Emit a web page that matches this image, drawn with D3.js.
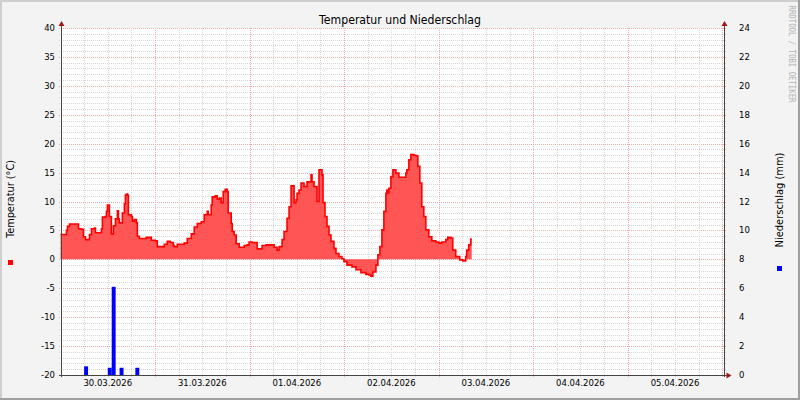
<!DOCTYPE html>
<html><head><meta charset="utf-8">
<script src="https://cdn.jsdelivr.net/npm/d3@7"></script>
<style>html,body{margin:0;padding:0;background:#f3f3f3}svg{display:block}</style>
</head><body><svg id="c" width="800" height="400"></svg>
<script>
// ---------- data ----------
const chartTitle = "Temperatur und Niederschlag";
const leftAxisTitle = "Temperatur (°C)";
const rightAxisTitle = "Niederschlag (mm)";
const watermark = "RRDTOOL / TOBI OETIKER";
const startTime = "2026-03-30T00:00";
const endTime = "2026-04-06T00:27";
const dateTicks = ["30.03.2026","31.03.2026","01.04.2026","02.04.2026","03.04.2026","04.04.2026","05.04.2026"];
const tempTicks = [-20,-15,-10,-5,0,5,10,15,20,25,30,35,40];
const rainTicks = [0,2,4,6,8,10,12,14,16,18,20,22,24];
// temperature: hours since start, °C
const tempHours = [0,1.27,1.52,1.77,2.28,4.31,4.56,5.32,5.83,6.34,6.84,7.35,7.86,8.62,8.87,9.88,10.39,10.64,11.40,11.66,11.91,12.16,12.42,12.92,13.18,13.43,13.94,14.44,14.70,14.95,15.46,15.71,16.22,16.47,16.73,16.98,17.23,17.99,18.25,18.75,19.26,19.51,20.02,21.29,21.79,22.55,23.06,24.07,24.58,25.59,26.35,27.11,27.88,28.64,28.89,29.65,30.66,31.42,32.18,33.20,33.96,34.72,35.73,36.49,37.25,37.50,38.26,38.52,39.28,39.79,40.29,40.80,41.31,41.81,42.32,42.57,43.33,43.59,44.09,44.60,45.36,46.12,46.63,47.39,47.89,48.65,49.67,49.92,50.94,51.19,52.20,53.47,54.23,54.99,55.50,56.26,56.76,57.52,58.03,58.54,58.79,59.30,59.80,60.06,60.56,61.07,61.83,62.59,63.61,63.86,64.37,65.13,65.63,66.39,66.65,67.15,67.66,68.17,68.67,69.43,69.94,70.70,71.46,71.96,72.73,73.99,75.01,76.28,77.54,78.30,78.81,79.31,80.08,80.58,81.09,81.60,82.10,82.61,82.86,83.12,83.37,83.88,84.39,85.15,85.91,86.67,87.68,87.93,88.44,88.95,89.71,90.21,90.72,91.23,91.73,92.24,92.75,93.51,94.27,95.28,96.04,96.80,97.82,98.32,99.08,99.59,100.35,101.36,102.12,102.88,103.13,103.64,104.15,104.40];
const tempValues = [4.3,4.3,5.0,5.7,6.1,6.1,5.3,5.2,3.9,3.4,3.4,4.3,5.3,5.4,4.6,4.6,5.3,7.3,7.4,8.3,9.4,9.4,7.4,4.4,4.4,5.8,7.0,8.4,7.0,6.3,6.3,8.0,9.6,11.1,11.3,11.1,7.7,7.4,6.6,6.9,6.3,4.0,3.6,3.6,3.8,3.8,3.3,3.2,2.2,2.2,2.6,3.1,2.9,2.4,2.2,2.6,2.6,2.8,3.6,4.4,5.6,6.2,6.5,7.7,8.3,7.7,9.4,10.8,11.0,10.4,10.6,9.8,11.7,12.1,11.7,8.0,6.2,4.8,4.2,2.7,2.1,2.1,2.4,2.5,3.0,2.9,2.9,1.8,1.8,2.4,2.5,2.5,2.1,1.6,2.2,3.4,4.8,7.1,9.1,12.7,12.7,9.8,10.3,11.4,12.0,13.2,12.6,13.4,14.6,13.4,12.6,10.0,15.5,14.6,9.8,7.4,5.7,4.2,3.1,1.9,1.0,0.5,0.1,-0.4,-1.0,-1.3,-1.8,-2.3,-2.6,-2.7,-2.9,-2.2,-1.0,0.8,2.2,5.1,8.3,11.4,12.0,11.5,12.3,14.3,15.5,14.9,14.2,14.2,14.9,15.5,17.2,18.1,18.0,17.9,16.1,13.2,9.1,7.4,5.1,3.9,3.2,3.0,2.8,3.0,3.4,3.8,3.7,1.6,0.5,-0.1,-0.3,0.5,1.6,2.5,3.5,3.5];
// precipitation: hour (start of interval) since start, mm
const rainHours = [6,12,13,15,19];
const rainValues = [0.6,0.5,6.1,0.5,0.5];

// ---------- drawing ----------
const W = 800, H = 400;
const svg = d3.select("#c");
const font = "'DejaVu Sans', sans-serif";
const start = new Date(startTime), end = new Date(endTime);
const atHour = h => new Date(+start + h * 3600e3);

const x = d3.scaleTime().domain([start, end]).range([60.5, 724]);
const yL = d3.scaleLinear().domain([-20, 40]).range([375, 28]);
const yR = d3.scaleLinear().domain([0, 24]).range([375, 28]);
const px = v => Math.round(v) + 0.5;

// canvas + frame
svg.append("rect").attr("width", W).attr("height", H).attr("fill", "#f3f3f3");
svg.append("rect").attr("x",0).attr("y",0).attr("width",W).attr("height",2).attr("fill","#cfcfcf");
svg.append("rect").attr("x",0).attr("y",0).attr("width",2).attr("height",H).attr("fill","#cfcfcf");
svg.append("rect").attr("x",W-2).attr("y",0).attr("width",2).attr("height",H).attr("fill","#9f9f9f");
svg.append("rect").attr("x",0).attr("y",H-2).attr("width",W).attr("height",2).attr("fill","#9f9f9f");

// plot background
const [x0, x1] = x.range(), [yb, yt] = yL.range();
svg.append("rect").attr("x", x0).attr("y", yt).attr("width", x1 - x0).attr("height", yb - yt).attr("fill", "#ffffff");

const grid = svg.append("g").attr("stroke-dasharray", "1,1").attr("stroke-width", 1).attr("shape-rendering", "crispEdges");
const minorC = "#d6d6d6", majorC = "#efabab";
// horizontal grid
d3.range(-20, 41, 1).filter(v => v % 5 !== 0).forEach(v => {
  grid.append("line").attr("x1", x0 - 2).attr("x2", x1 + 2).attr("y1", px(yL(v))).attr("y2", px(yL(v))).attr("stroke", minorC);
});
tempTicks.forEach(v => {
  grid.append("line").attr("x1", x0 - 2).attr("x2", x1 + 2).attr("y1", px(yL(v))).attr("y2", px(yL(v))).attr("stroke", majorC);
});
// vertical grid
d3.timeHour.every(6).range(start, end).forEach(t => {
  const isDay = t.getHours() === 0;
  grid.append("line").attr("x1", px(x(t))).attr("x2", px(x(t))).attr("y1", yt).attr("y2", yb + 2).attr("stroke", isDay ? majorC : minorC);
});

// temperature area + line
const pts = tempHours.map((h, i) => ({ t: atHour(h), v: tempValues[i] }));
svg.append("path").datum(pts)
  .attr("d", d3.area().curve(d3.curveStepAfter).x(d => x(d.t)).y0(yL(0)).y1(d => yL(d.v)))
  .attr("fill", "#ff5555");
svg.append("path").datum(pts)
  .attr("d", d3.line().curve(d3.curveStepAfter).x(d => x(d.t)).y(d => yL(d.v)))
  .attr("fill", "none").attr("stroke", "#ff0000").attr("stroke-width", 1.6).attr("stroke-linejoin", "miter");

// precipitation bars
svg.append("g").selectAll("rect").data(rainHours.map((h, i) => ({ h, v: rainValues[i] })))
  .join("rect")
  .attr("x", d => x(atHour(d.h)))
  .attr("width", d => x(atHour(d.h + 1)) - x(atHour(d.h)))
  .attr("y", d => yR(d.v))
  .attr("height", d => yR(0) - yR(d.v))
  .attr("fill", "#0000ff");

// axis lines
const ax = svg.append("g").attr("stroke", "#444").attr("stroke-width", 1).attr("shape-rendering", "crispEdges");
ax.append("line").attr("x1", px(x0)).attr("x2", px(x0)).attr("y1", yt - 3).attr("y2", yb + 2);
ax.append("line").attr("x1", px(x1)).attr("x2", px(x1)).attr("y1", yt - 3).attr("y2", yb + 2);
ax.append("line").attr("x1", x0 - 2).attr("x2", x1 + 3).attr("y1", px(yb)).attr("y2", px(yb));
// arrows
const arrowC = "#a01818";
const ax0 = px(x0), ax1 = px(x1), ayb = px(yb);
svg.append("path").attr("d", `M${ax0-3},${yt-2}L${ax0+3},${yt-2}L${ax0},${yt-7}Z`).attr("fill", arrowC);
svg.append("path").attr("d", `M${ax1-3},${yt-2}L${ax1+3},${yt-2}L${ax1},${yt-7}Z`).attr("fill", arrowC);
svg.append("path").attr("d", `M${ax1+2},${ayb-3}L${ax1+2},${ayb+3}L${ax1+7},${ayb}Z`).attr("fill", arrowC);

// tick labels
const lab = svg.append("g").attr("font-family", font).attr("font-size", 8.5).attr("fill", "#000");
tempTicks.forEach(v => {
  lab.append("text").attr("x", 55).attr("y", yL(v) + 3).attr("text-anchor", "end").text(v);
});
rainTicks.forEach(v => {
  lab.append("text").attr("x", 739).attr("y", yR(v) + 3).attr("text-anchor", "start").text(v);
});
const parseDay = d3.timeParse("%d.%m.%Y");
dateTicks.forEach(s => {
  const t = d3.timeHour.offset(parseDay(s), 12);
  lab.append("text").attr("x", x(t)).attr("y", 386).attr("text-anchor", "middle").text(s);
});

// titles
svg.append("text").attr("x", 400).attr("y", 24).attr("text-anchor", "middle")
  .attr("font-family", font).attr("font-size", 12).attr("fill", "#000")
  .attr("textLength", 162).attr("lengthAdjust", "spacingAndGlyphs").text(chartTitle);
svg.append("text").attr("transform", "translate(13.5,199) rotate(-90)").attr("text-anchor", "middle")
  .attr("font-family", font).attr("font-size", 10).attr("fill", "#000")
  .attr("textLength", 78).attr("lengthAdjust", "spacingAndGlyphs").text(leftAxisTitle);
svg.append("text").attr("transform", "translate(783,200) rotate(-90)").attr("text-anchor", "middle")
  .attr("font-family", font).attr("font-size", 10).attr("fill", "#000")
  .attr("textLength", 95).attr("lengthAdjust", "spacingAndGlyphs").text(rightAxisTitle);
svg.append("text").attr("transform", "translate(788.5,54) rotate(90)").attr("text-anchor", "middle")
  .attr("font-family", "'DejaVu Sans Mono', monospace").attr("font-size", 8.5).attr("fill", "#b4b4b4")
  .attr("textLength", 97).attr("lengthAdjust", "spacingAndGlyphs").text(watermark);

// legend markers
svg.append("rect").attr("x", 8).attr("y", 260).attr("width", 5).attr("height", 5).attr("fill", "#ff0000");
svg.append("rect").attr("x", 777).attr("y", 266).attr("width", 5).attr("height", 5).attr("fill", "#0000ff");
</script></body></html>
